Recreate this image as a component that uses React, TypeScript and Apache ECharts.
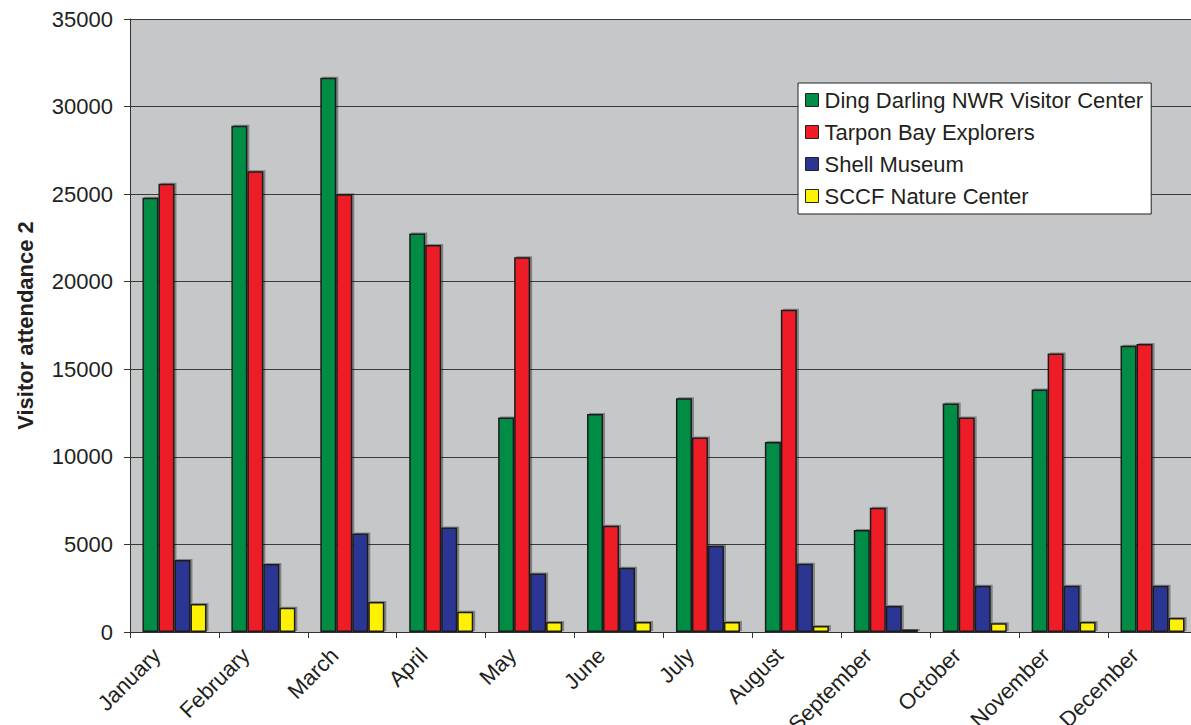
import React, { useEffect, useRef } from "react";
import * as echarts from "echarts";

const months = ["January", "February", "March", "April", "May", "June", "July", "August", "September", "October", "November", "December"];
const seriesNames = ["Ding Darling NWR Visitor Center", "Tarpon Bay Explorers", "Shell Museum", "SCCF Nature Center"];
const dingDarling = [24800, 28900, 31650, 22750, 12250, 12450, 13350, 10850, 5820, 13050, 13850, 16350];
const tarponBay = [25600, 26300, 25000, 22100, 21400, 6070, 11100, 18400, 7100, 12250, 15900, 16450];
const shellMuseum = [4110, 3880, 5620, 5960, 3340, 3670, 4930, 3900, 1480, 2640, 2640, 2640];
const sccf = [1600, 1380, 1720, 1150, 570, 570, 570, 340, 140, 500, 570, 800];
const colors = ["#008c44", "#ee1c25", "#2b3594", "#fff200"];
const yTicks = { min: 0, max: 35000, interval: 5000 };

const FONT = "'Liberation Sans', Arial, sans-serif";

export default function App() {
  const ref = useRef<HTMLDivElement>(null);
  useEffect(() => {
    if (!ref.current) return;
    const chart = echarts.init(ref.current, null, { renderer: "svg" });
    const data = [dingDarling, tarponBay, shellMuseum, sccf];
    chart.setOption({
      animation: false,
      backgroundColor: "#ffffff",
      textStyle: { fontFamily: FONT },
      grid: {
        left: 130,
        top: 19,
        width: 1067,
        height: 613,
        show: true,
        backgroundColor: "#c6c7c9",
        borderWidth: 0,
        containLabel: false,
        outerBoundsMode: "none",
      },
      legend: {
        orient: "vertical",
        left: 798,
        top: 83,
        padding: [6, 8, 7, 7],
        backgroundColor: "#ffffff",
        borderColor: "#222222",
        borderWidth: 1,
        itemWidth: 13,
        itemHeight: 13,
        itemGap: 10,
        icon: "rect",
        itemStyle: { borderWidth: 1, borderColor: "#222222" },
        textStyle: { fontFamily: FONT, fontSize: 22, color: "#231f20", padding: [0, 0, 0, 1] },
        data: seriesNames,
      },
      xAxis: {
        type: "category",
        data: months,
        axisLine: { show: true, lineStyle: { color: "#333333", width: 1 } },
        axisTick: { show: true, length: 6, lineStyle: { color: "#333333" } },
        axisLabel: {
          rotate: 45,
          margin: 2,
          fontSize: 22,
          fontFamily: FONT,
          color: "#231f20",
          interval: 0,
          padding: [0, 25, 0, 0],
        },
        splitLine: { show: false },
      },
      yAxis: {
        type: "value",
        min: yTicks.min,
        max: yTicks.max,
        interval: yTicks.interval,
        name: "Visitor attendance 2",
        nameLocation: "middle",
        nameGap: 94,
        nameRotate: 90,
        nameTextStyle: { fontFamily: FONT, fontSize: 22, fontWeight: "bold", color: "#231f20" },
        axisLine: { show: true, lineStyle: { color: "#333333", width: 1 } },
        axisTick: { show: true, length: 6, lineStyle: { color: "#333333" } },
        axisLabel: {
          margin: 17,
          fontSize: 22,
          fontFamily: FONT,
          color: "#231f20",
          formatter: (v: number) => String(v),
        },
        splitLine: { show: true, lineStyle: { color: "#3a3a3a", width: 1 } },
      },
      series: seriesNames.map((name, i) => ({
        name,
        type: "bar",
        data: data[i],
        barWidth: 16,
        barGap: "0%",
        itemStyle: {
          color: colors[i],
          borderColor: "#1e1e1e",
          borderWidth: 1.5,
          shadowColor: "rgba(0,0,0,0.35)",
          shadowOffsetX: 2,
          shadowOffsetY: -1,
          shadowBlur: 1,
        },
      })),
    });
    return () => chart.dispose();
  }, []);
  return <div ref={ref} style={{ position: "absolute", left: 0, top: 0, width: 1191, height: 725 }} />;
}
